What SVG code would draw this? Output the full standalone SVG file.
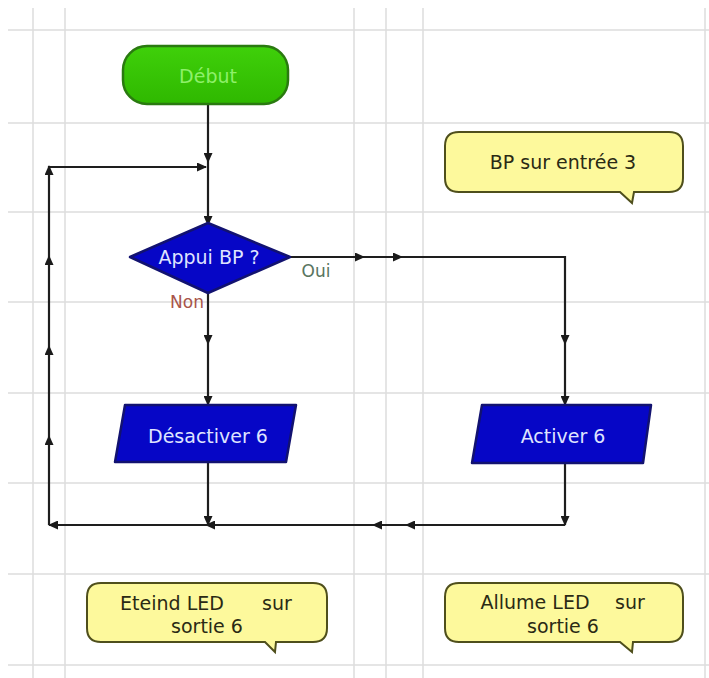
<svg xmlns="http://www.w3.org/2000/svg" width="709" height="678" viewBox="0 0 709 678">
<defs>
<marker id="arr" markerUnits="userSpaceOnUse" markerWidth="10" markerHeight="9" refX="9" refY="4.5" orient="auto">
<path d="M0,0 L10,4.5 L0,9 z" fill="#1a1a1a"/>
</marker>
<linearGradient id="gstart" x1="0" y1="0" x2="0" y2="1">
<stop offset="0" stop-color="#3fd00a"/>
<stop offset="1" stop-color="#2fb800"/>
</linearGradient>
</defs>
<style>
.grid line{stroke:#dcdcdc;stroke-width:1.5}
.conn path{fill:none;stroke:#1e1e1e;stroke-width:2.2;marker-end:url(#arr)}
.conn path.plain{marker-end:none}
.t{font-family:"DejaVu Sans","Verdana",sans-serif;font-size:19px;text-anchor:middle;dominant-baseline:central}
.blue{fill:#0606c6;stroke:#121270;stroke-width:2.5;stroke-linejoin:round}
.cmt{fill:#fdf99c;stroke:#4f4f1c;stroke-width:2}
.ct{fill:#2a2a14}
.wt{fill:#dfe3ff}
</style>
<rect width="709" height="678" fill="#ffffff"/>
<g class="grid">
<line x1="33" y1="8" x2="33" y2="678"/>
<line x1="65" y1="8" x2="65" y2="678"/>
<line x1="354" y1="8" x2="354" y2="678"/>
<line x1="386" y1="8" x2="386" y2="678"/>
<line x1="423" y1="8" x2="423" y2="678"/>
<line x1="705" y1="8" x2="705" y2="678"/>
<line x1="8" y1="30" x2="709" y2="30"/>
<line x1="8" y1="123" x2="709" y2="123"/>
<line x1="8" y1="212" x2="709" y2="212"/>
<line x1="8" y1="302" x2="709" y2="302"/>
<line x1="8" y1="393" x2="709" y2="393"/>
<line x1="8" y1="483" x2="709" y2="483"/>
<line x1="8" y1="574" x2="709" y2="574"/>
<line x1="8" y1="665" x2="709" y2="665"/>
</g>
<g id="connectors" class="conn">
<path d="M208,104 V162"/>
<path d="M208,162 V225"/>
<path d="M49,167 H206"/>
<path d="M208,293 V344"/>
<path d="M208,344 V405"/>
<path d="M290,257 H364"/>
<path d="M364,257 H402"/>
<path class="plain" d="M402,257 H565 V300"/>
<path d="M565,300 V344"/>
<path d="M565,344 V405"/>
<path d="M208,463 V525"/>
<path d="M565,463 V525"/>
<path d="M565,525 H406"/>
<path d="M406,525 H373"/>
<path d="M373,525 H206"/>
<path d="M208,525 H49"/>
<path d="M49,525 V436"/>
<path d="M49,436 V346"/>
<path d="M49,346 V256"/>
<path d="M49,256 V166"/>
</g>
<g id="start">
<rect x="123" y="46" width="165" height="58" rx="24" fill="url(#gstart)" stroke="#2a7a10" stroke-width="2.5"/>
<text class="t" x="208" y="76" fill="#8ef06a">Début</text>
</g>
<g id="decision">
<polygon class="blue" points="208,223 290,257 208,293 130,257"/>
<text class="t wt" x="209" y="257">Appui BP ?</text>
<text class="t" x="316" y="271" fill="#5a7560" style="font-size:17px">Oui</text>
<text class="t" x="187" y="302" fill="#a8554a" style="font-size:17px">Non</text>
</g>
<g id="desactiver">
<polygon class="blue" points="125,405 296,405 286,462 115,462"/>
<text class="t wt" x="208" y="436">Désactiver 6</text>
</g>
<g id="activer">
<polygon class="blue" points="482,405 651,405 643,463 472,463"/>
<text class="t wt" x="563" y="436">Activer 6</text>
</g>
<g id="comment-bp">
<path class="cmt" d="M459,132 H669 Q683,132 683,146 V178 Q683,192 669,192 H634 L632,203 L620,192 H459 Q445,192 445,178 V146 Q445,132 459,132 Z"/>
<text class="t ct" x="563" y="162">BP sur entrée 3</text>
</g>
<g id="comment-eteind">
<path class="cmt" d="M101,583 H313 Q327,583 327,597 V628 Q327,642 313,642 H276 L275,652 L265,642 H101 Q87,642 87,628 V597 Q87,583 101,583 Z"/>
<text class="t ct"><tspan x="172" y="603">Eteind LED</tspan><tspan x="277" y="603">sur</tspan><tspan x="207" y="626">sortie 6</tspan></text>
</g>
<g id="comment-allume">
<path class="cmt" d="M459,583 H669 Q683,583 683,597 V628 Q683,642 669,642 H633 L632,652 L620,642 H459 Q445,642 445,628 V597 Q445,583 459,583 Z"/>
<text class="t ct"><tspan x="535" y="602">Allume LED</tspan><tspan x="630" y="602">sur</tspan><tspan x="563" y="626">sortie 6</tspan></text>
</g>
</svg>
